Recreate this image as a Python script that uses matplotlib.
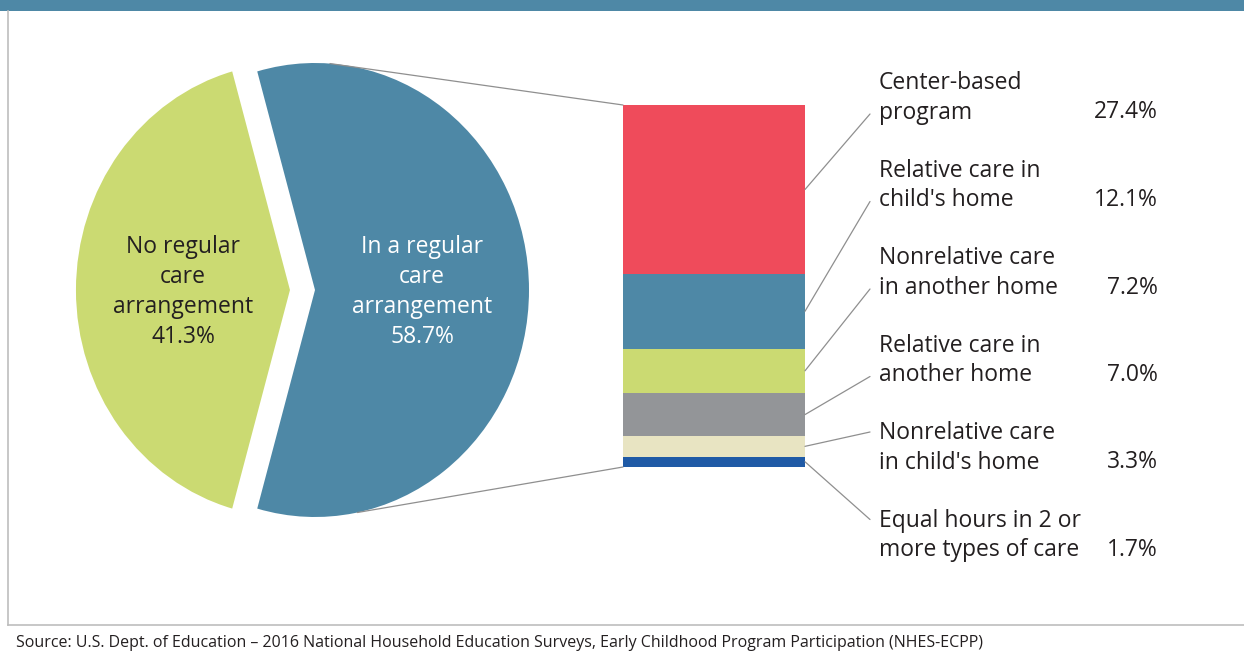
import numpy as np
import matplotlib.pyplot as plt
from matplotlib.patches import ConnectionPatch, Rectangle

plt.rcParams['font.family'] = ['Open Sans', 'DejaVu Sans']

# Share of children in a regular care arrangement
pie_labels = ["In a regular\ncare\narrangement", "No regular\ncare\narrangement"]
pie_values = [58.7, 41.3]
pie_colors = ["#4E88A6", "#CBDA72"]
pie_text_colors = ["white", "#231F20"]

# Primary arrangement, listed from the bottom of the stack up
care_types = [
    "Equal hours in 2 or\nmore types of care",
    "Nonrelative care\nin child's home",
    "Relative care in\nanother home",
    "Nonrelative care\nin another home",
    "Relative care in\nchild's home",
    "Center-based\nprogram",
]
care_values = [1.7, 3.3, 7.0, 7.2, 12.1, 27.4]
care_colors = ["#1F5AA6", "#E8E4C2", "#939598", "#CBDA72", "#4E88A6", "#EF4B5B"]

source = ("Source: U.S. Dept. of Education \u2013 2016 National Household Education Surveys, "
          "Early Childhood Program Participation (NHES-ECPP)")

W, H = 1244, 654
fig = plt.figure(figsize=(W / 100, H / 100), dpi=100)
text_color = "#231F20"
line_color = "#8F8F8F"
fs = 16.5
ls = 1.33


def px_axes(left, top, width, height, **kw):
    return fig.add_axes([left / W, 1 - (top + height) / H, width / W, height / H], **kw)


# background layer in pixel units: banner and frame
bg = px_axes(0, 0, W, H)
bg.set_xlim(0, W)
bg.set_ylim(H, 0)
bg.axis('off')
bg.add_patch(Rectangle((0, 0), W, 11, color="#4E88A6", lw=0))
bg.plot([8, 8], [11, 625], color="#BDBDBD", lw=1.2)
bg.plot([8, W], [625, 625], color="#BDBDBD", lw=1.2)
bg.text(16, 643, source, fontsize=11.5, color=text_color, va='center', ha='left')

# pie, slightly stretched vertically
rx, ry = 214, 227
pie_ax = px_axes(315 - 1.25 * rx, 290 - 1.25 * ry, 2.5 * rx, 2.5 * ry)
wedges, _ = pie_ax.pie(pie_values, colors=pie_colors,
                       startangle=-pie_values[0] / 100 * 180,
                       explode=[0, 0.117], counterclock=True,
                       wedgeprops=dict(linewidth=0))
pie_ax.set_xlim(-1.25, 1.25)
pie_ax.set_ylim(-1.25, 1.25)
pie_ax.set_aspect('auto')
for w, lab, val, tc in zip(wedges, pie_labels, pie_values, pie_text_colors):
    mid = np.deg2rad((w.theta1 + w.theta2) / 2)
    cx, cy = w.center
    pie_ax.text(cx + 0.5 * np.cos(mid), cy + 0.5 * np.sin(mid) - 0.01,
                f"{lab}\n{val:.1f}%", ha='center', va='center',
                fontsize=fs, color=tc, linespacing=ls)

# stacked bar of the regular care breakdown
total = sum(care_values)
bar_ax = px_axes(623, 105, 182, 362)
bottoms = np.concatenate([[0], np.cumsum(care_values)[:-1]])
bar_ax.bar(0, care_values, bottom=bottoms, width=1, color=care_colors, linewidth=0)
bar_ax.set_xlim(-0.5, 0.5)
bar_ax.set_ylim(0, total)
bar_ax.axis('off')

# lines joining the regular-care wedge to the bar
for ang, ybar in [(86, total), (-78.6, 0)]:
    a = np.deg2rad(ang)
    con = ConnectionPatch(xyA=(np.cos(a), np.sin(a)), coordsA=pie_ax.transData,
                          xyB=(-0.5, ybar), coordsB=bar_ax.transData,
                          color=line_color, lw=0.9)
    fig.add_artist(con)

# category labels with leader lines
n = len(care_types)
for i, (lab, val) in enumerate(zip(care_types, care_values)):
    yc = 98 + 87.5 * (n - 1 - i)
    bg.text(879, yc, lab, ha='left', va='center', fontsize=fs,
            color=text_color, linespacing=ls)
    bg.text(1158, yc + 14.5, f"{val:.1f}%", ha='right', va='center',
            fontsize=fs, color=text_color)
    mid = bottoms[i] + val / 2
    mid_px = bg.transData.inverted().transform(bar_ax.transData.transform((0.5, mid)))[1]
    yend = yc + 16 if mid_px > yc else yc - 16
    con = ConnectionPatch(xyA=(0.5, mid), coordsA=bar_ax.transData,
                          xyB=(870, yend), coordsB=bg.transData,
                          color=line_color, lw=0.9)
    fig.add_artist(con)

fig.savefig("out.png", dpi=100)
